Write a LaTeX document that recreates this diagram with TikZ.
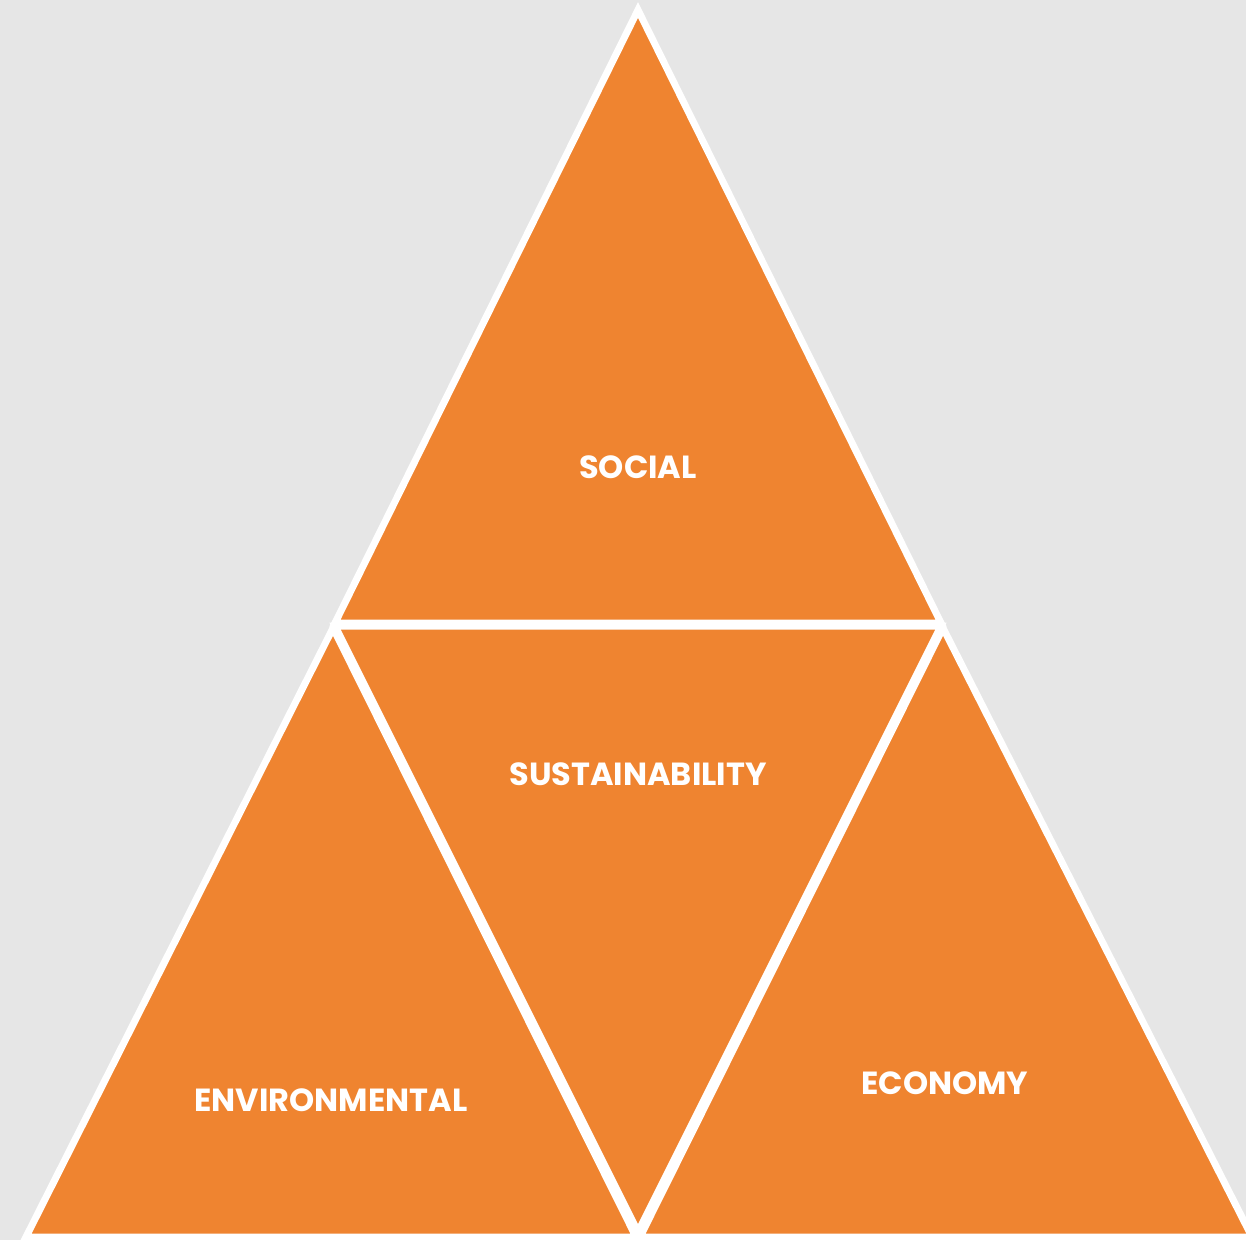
\documentclass[tikz,border=0pt]{standalone}
\usepackage{fontspec}
\setmainfont{Poppins}
\usepackage{tikz}

\definecolor{bgray}{HTML}{E6E6E6}
\definecolor{sorange}{HTML}{EF8430}

\begin{document}
\begin{tikzpicture}[x=0.5pt,y=-0.5pt,
  tri/.style={fill=sorange, draw=white, line width=3.5pt, line join=miter},
  lbl/.style={text=white, font=\fontsize{16}{19}\selectfont\bfseries}]
\useasboundingbox (0,0) rectangle (1246,1240);
\clip (0,0) rectangle (1246,1240);
\fill[bgray] (0,0) rectangle (1246,1240);
\coordinate (a) at (638,10);
\coordinate (b) at (335,623);
\coordinate (c) at (941,623);
\coordinate (d) at (638,1232);
\draw[tri] (a) -- (b) -- (c) -- cycle;
\draw[tri] (333,628) -- (26,1237) -- (636,1237) -- cycle;
\draw[tri] (943,628) -- (640,1237) -- (1252,1237) -- cycle;
\draw[tri] (335,626) -- (941,626) -- (d) -- cycle;
\node[lbl](social) at (638,467){SOCIAL};
\node[lbl](sustain) at (638,774){SUSTAINABILITY};
\node[lbl](environ) at (331,1100){ENVIRONMENTAL};
\node[lbl](economy) at (945,1083){ECONOMY};
\end{tikzpicture}
\end{document}
